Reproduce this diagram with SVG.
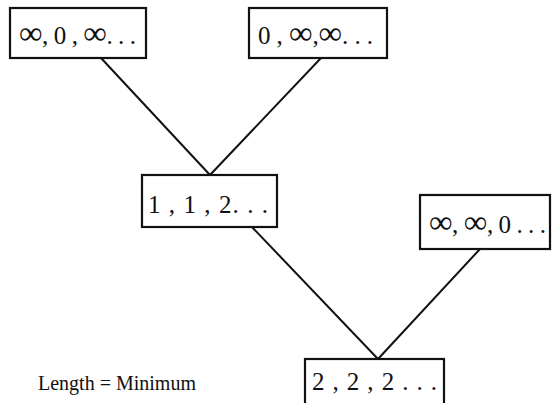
<svg xmlns="http://www.w3.org/2000/svg" width="553" height="403" viewBox="0 0 553 403">
<style>
.box{fill:#fff;stroke:#111;stroke-width:2.2}
.t{font-family:"Liberation Serif","Times New Roman",serif;font-size:25px;fill:#111}
.inf{font-size:33px}
.lbl{font-family:"Liberation Serif","Times New Roman",serif;font-size:20px;fill:#111}
.edge{stroke:#111;stroke-width:2;fill:none}
</style>
<rect width="553" height="403" fill="#fff"/>
<g id="connectors">
<line class="edge" x1="101" y1="58" x2="210" y2="175"/>
<line class="edge" x1="321" y1="58" x2="210" y2="175"/>
<line class="edge" x1="252" y1="227" x2="378" y2="359"/>
<line class="edge" x1="480" y1="249" x2="378" y2="359"/>
</g>
<g id="n1">
<rect class="box" x="10" y="8" width="136" height="50"/>
<text class="t" x="19" y="44" textLength="117" lengthAdjust="spacing"><tspan class="inf">∞</tspan>, 0 , <tspan class="inf">∞</tspan>. . .</text>
</g>
<g id="n2">
<rect class="box" x="249" y="8" width="138" height="50"/>
<text class="t" x="258" y="44" textLength="115" lengthAdjust="spacing">0 , <tspan class="inf">∞</tspan>,<tspan class="inf">∞</tspan>. . .</text>
</g>
<g id="n3">
<rect class="box" x="142" y="175" width="135" height="52"/>
<text class="t" x="148" y="213" textLength="120" lengthAdjust="spacing">1 , 1 , 2. . .</text>
</g>
<g id="n4">
<rect class="box" x="420" y="195" width="130" height="54"/>
<text class="t" x="429" y="233" textLength="117" lengthAdjust="spacing"><tspan class="inf">∞</tspan>, <tspan class="inf">∞</tspan>, 0 . . .</text>
</g>
<g id="n5">
<rect class="box" x="305" y="359" width="139" height="60"/>
<text class="t" x="312" y="390" textLength="125" lengthAdjust="spacing">2 , 2 , 2 . . .</text>
</g>
<g id="caption">
<text class="lbl" x="38" y="390">Length = Minimum</text>
</g>
</svg>
